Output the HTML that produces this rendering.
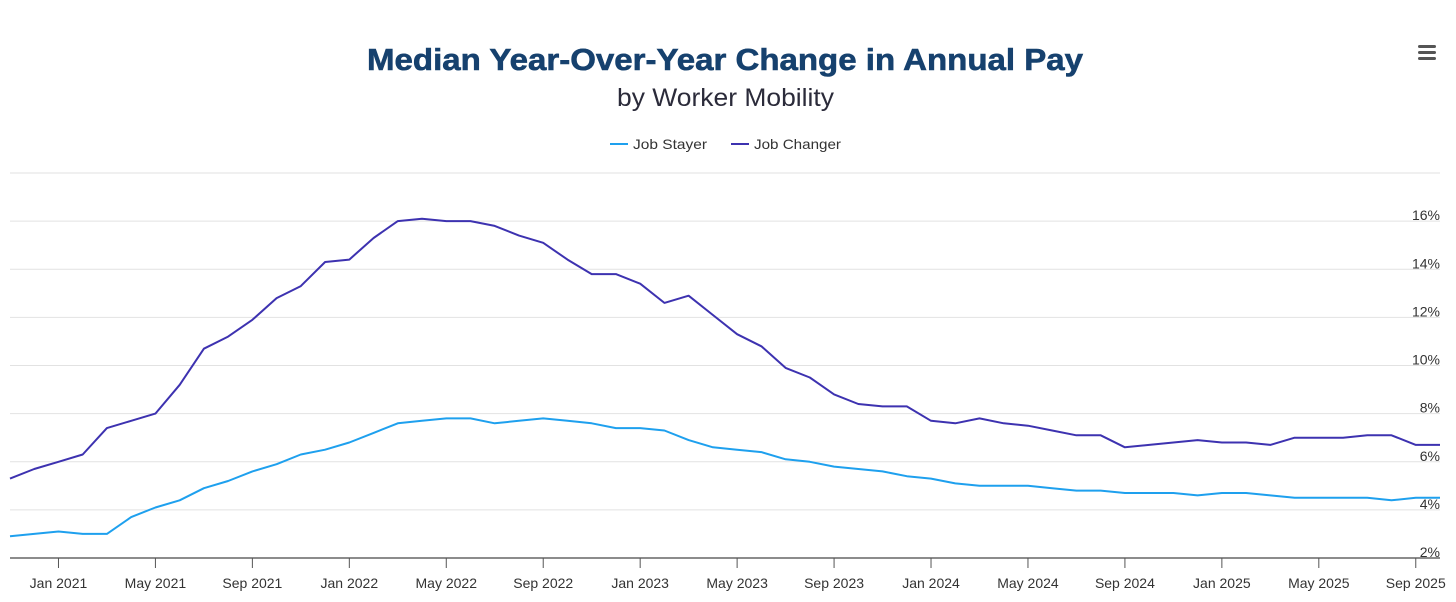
<!DOCTYPE html>
<html><head><meta charset="utf-8"><style>
body{margin:0;background:#fff;width:1456px;height:602px;overflow:hidden;font-family:"Liberation Sans",sans-serif}
</style></head><body>
<svg width="1456" height="602" style="position:absolute;left:0;top:0">
<text x="367" y="70" textLength="716" lengthAdjust="spacingAndGlyphs" font-size="31" font-weight="bold" fill="#16416e" stroke="#16416e" stroke-width="0.6">Median Year-Over-Year Change in Annual Pay</text>
<text x="617" y="106" textLength="217" lengthAdjust="spacingAndGlyphs" font-size="25" fill="#2b2b3a">by Worker Mobility</text>
<g fill="#555">
<rect x="1418" y="45" width="18" height="3" rx="1.5"/><rect x="1418" y="51" width="18" height="3" rx="1.5"/><rect x="1418" y="57" width="18" height="3" rx="1.5"/></g>
<g font-size="14" fill="#333">
<g><line x1="610" y1="144" x2="628" y2="144" stroke="#1ea0ee" stroke-width="2"/><text x="633" y="149" textLength="74" lengthAdjust="spacingAndGlyphs">Job Stayer</text></g>
<g><line x1="731" y1="144" x2="749" y2="144" stroke="#3d32b0" stroke-width="2"/><text x="754" y="149" textLength="87" lengthAdjust="spacingAndGlyphs">Job Changer</text></g>
</g>
<g id="grid"></g><g id="xaxis"></g><g id="series"></g>
</svg>
<script>
const months=["Nov 2020","Dec 2020","Jan 2021","Feb 2021","Mar 2021","Apr 2021","May 2021","Jun 2021","Jul 2021","Aug 2021","Sep 2021","Oct 2021","Nov 2021","Dec 2021","Jan 2022","Feb 2022","Mar 2022","Apr 2022","May 2022","Jun 2022","Jul 2022","Aug 2022","Sep 2022","Oct 2022","Nov 2022","Dec 2022","Jan 2023","Feb 2023","Mar 2023","Apr 2023","May 2023","Jun 2023","Jul 2023","Aug 2023","Sep 2023","Oct 2023","Nov 2023","Dec 2023","Jan 2024","Feb 2024","Mar 2024","Apr 2024","May 2024","Jun 2024","Jul 2024","Aug 2024","Sep 2024","Oct 2024","Nov 2024","Dec 2024","Jan 2025","Feb 2025","Mar 2025","Apr 2025","May 2025","Jun 2025","Jul 2025","Aug 2025","Sep 2025","Oct 2025"];
const jobStayer=[2.9,3.0,3.1,3.0,3.0,3.7,4.1,4.4,4.9,5.2,5.6,5.9,6.3,6.5,6.8,7.2,7.6,7.7,7.8,7.8,7.6,7.7,7.8,7.7,7.6,7.4,7.4,7.3,6.9,6.6,6.5,6.4,6.1,6.0,5.8,5.7,5.6,5.4,5.3,5.1,5.0,5.0,5.0,4.9,4.8,4.8,4.7,4.7,4.7,4.6,4.7,4.7,4.6,4.5,4.5,4.5,4.5,4.4,4.5,4.5];
const jobChanger=[5.3,5.7,6.0,6.3,7.4,7.7,8.0,9.2,10.7,11.2,11.9,12.8,13.3,14.3,14.4,15.3,16.0,16.1,16.0,16.0,15.8,15.4,15.1,14.4,13.8,13.8,13.4,12.6,12.9,12.1,11.3,10.8,9.9,9.5,8.8,8.4,8.3,8.3,7.7,7.6,7.8,7.6,7.5,7.3,7.1,7.1,6.6,6.7,6.8,6.9,6.8,6.8,6.7,7.0,7.0,7.0,7.1,7.1,6.7,6.7];
const yTicks=[2,4,6,8,10,12,14,16,18];
const xTickLabels=["Jan 2021","May 2021","Sep 2021","Jan 2022","May 2022","Sep 2022","Jan 2023","May 2023","Sep 2023","Jan 2024","May 2024","Sep 2024","Jan 2025","May 2025","Sep 2025"];
const NS="http://www.w3.org/2000/svg";
const x0=10,x1=1440,yBase=558,yTop=173,vMin=2,vMax=18;
function xs(i){return x0+i*(x1-x0)/(months.length-1);}
function ys(v){return yBase-(v-vMin)*(yBase-yTop)/(vMax-vMin);}
function mk(t,a,p){const e=document.createElementNS(NS,t);for(const k in a)e.setAttribute(k,a[k]);p.appendChild(e);return e;}
const grid=document.getElementById('grid');
yTicks.forEach(v=>{
 const l=mk('line',{x1:10,x2:1440,y1:ys(v),y2:ys(v),stroke:'#e2e2e2','stroke-width':1},grid);
 
 
 if(v<18){const t=mk('text',{x:1440,y:ys(v)-1,'text-anchor':'end','font-size':14,fill:'#333'},grid);t.textContent=v+'%';
 
 }
});
const xa=document.getElementById('xaxis');
const ax=mk('line',{x1:10,x2:1440,y1:558,y2:558,stroke:'#666','stroke-width':1.5},xa);


xTickLabels.forEach(lbl=>{
 const i=months.indexOf(lbl);const x=xs(i);
 const tk=mk('line',{x1:x,x2:x,y1:558,y2:568,stroke:'#555','stroke-width':1},xa);
 
 
 const t=mk('text',{x:x,y:588,'text-anchor':'middle','font-size':14,fill:'#333'},xa);t.textContent=lbl;
 
 
});
const sg=document.getElementById('series');
function line(data,color,name){
 const d=data.map((v,i)=>(i?'L':'M')+xs(i).toFixed(1)+' '+ys(v).toFixed(1)).join(' ');
 const p=mk('path',{d:d,fill:'none',stroke:color,'stroke-width':2,'stroke-linejoin':'round'},sg);
 
 
}
line(jobStayer,'#1ea0ee','job-stayer-line');
line(jobChanger,'#3d32b0','job-changer-line');
</script>
</body></html>
